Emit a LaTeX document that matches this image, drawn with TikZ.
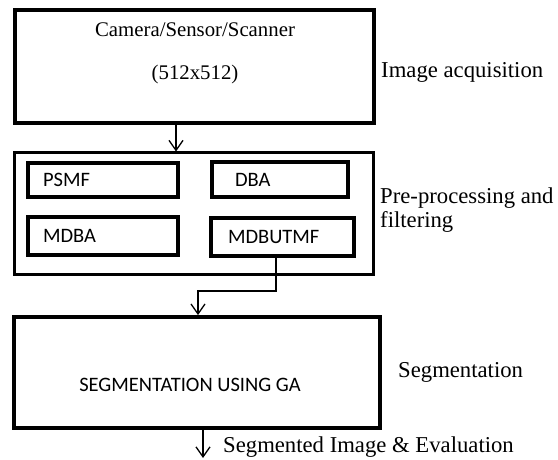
\documentclass[tikz,border=0pt]{standalone}
\usepackage{fontspec}
\setmainfont{Liberation Serif}
\newfontfamily\boxfont{Carlito}
\usetikzlibrary{arrows.meta}

\tikzset{
  stage/.style={draw, line width=3.8pt, minimum width=#1, inner sep=0pt},
  filterbox/.style={draw, line width=3.6pt, minimum height=#1, align=left,
    inner ysep=0pt, font=\boxfont\fontsize{20.5}{22}\selectfont},
  flow/.style={line width=1.3pt, -{Straight Barb[length=10pt,width=14pt,line width=1.3pt]}},
  caption/.style={inner sep=0pt, anchor=west, align=left,
    font=\fontsize{22.7}{24.5}\selectfont},
  intext/.style={inner sep=0pt, font=\fontsize{20.8}{22}\selectfont}
}

\begin{document}
\begin{tikzpicture}[x=1pt, y=-1pt]
  \useasboundingbox (0,0) rectangle (558,460);

  % three main stages
  \node[stage=359pt, minimum height=113pt] (cam) at (194.5,66.5) {};
  \node[stage=359pt, minimum height=121pt, line width=3pt] (pre) at (193.5,213.5) {};
  \node[stage=366pt, minimum height=111pt] (seg) at (197,372.5) {};

  % acquisition text
  \node[intext] (camtxt) at (195,30) {Camera/Sensor/Scanner};
  \node[intext] (restxt) at (195,74) {(512x512)};

  % filters
  \node[filterbox=34pt, text width=120pt, inner xsep=15pt] (psmf) at (103,180) {PSMF};
  \node[filterbox=35pt, text width=90pt, inner xsep=23pt] (dba) at (280,179.5) {DBA};
  \node[filterbox=38pt, text width=120pt, inner xsep=15pt] (mdba) at (103,236) {MDBA};
  \node[filterbox=38pt, text width=109pt, inner xsep=17pt] (mdbutmf) at (282.5,237) {MDBUTMF};

  % segmentation text
  \node[inner sep=0pt, font=\boxfont\fontsize{20.5}{22}\selectfont] (segtxt) at (190,385) {SEGMENTATION USING GA};

  % stage captions
  \node[caption] (capA) at (381,72) {Image acquisition};
  \node[caption] (capB) at (380,210) {Pre-processing and\\filtering};
  \node[caption] (capC) at (398,372) {Segmentation};
  \node[caption] (capD) at (223,447) {Segmented Image \& Evaluation};

  % connectors
  \coordinate (a1) at (176,0);
  \coordinate (bend1) at (276,291);
  \coordinate (bend2) at (198,291);
  \coordinate (outEnd) at (203,458);

  \draw[flow] (cam.south -| a1) -- (pre.north -| a1);
  \draw[flow] (mdbutmf.south -| bend1) -- (bend1) -- (bend2) -- (seg.north -| bend2);
  \draw[flow] (seg.south -| outEnd) -- (outEnd);
\end{tikzpicture}
\end{document}
